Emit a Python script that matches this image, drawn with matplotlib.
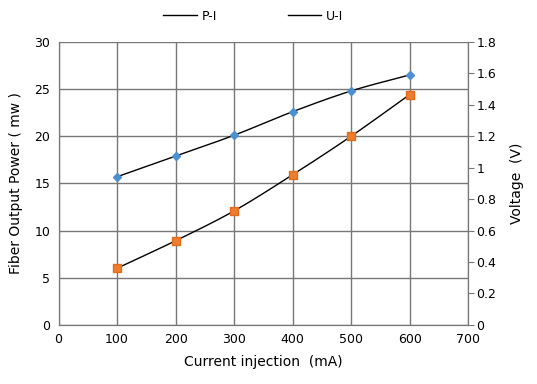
import numpy as np
import matplotlib.pyplot as plt

current = [100, 200, 300, 400, 500, 600]
power = [15.7, 17.9, 20.1, 22.6, 24.8, 26.5]
voltage = [0.36, 0.535, 0.725, 0.955, 1.2, 1.465]

x_ticks = [0, 100, 200, 300, 400, 500, 600, 700]
left_ticks = [0, 5, 10, 15, 20, 25, 30]
right_ticks = [0, 0.2, 0.4, 0.6, 0.8, 1, 1.2, 1.4, 1.6, 1.8]


def smooth(x, y, n=30):
    """ catmull-rom curve through the points, like excel's smoothed line """
    p = np.column_stack([x, y]).astype(float)
    p = np.vstack([2 * p[0] - p[1], p, 2 * p[-1] - p[-2]])
    out = []
    t = np.linspace(0, 1, n)[:, None]
    for i in range(1, len(p) - 2):
        p0, p1, p2, p3 = p[i - 1], p[i], p[i + 1], p[i + 2]
        seg = 0.5 * ((2 * p1) + (-p0 + p2) * t + (2 * p0 - 5 * p1 + 4 * p2 - p3) * t ** 2
                     + (-p0 + 3 * p1 - 3 * p2 + p3) * t ** 3)
        out.append(seg)
    out = np.vstack(out)
    return out[:, 0], out[:, 1]


grid_col = '#777777'
txt_col = '#000000'

fig = plt.figure(figsize=(5.37, 3.84), dpi=100)
ax = fig.add_axes([0.109, 0.154, 0.763, 0.737])
ax2 = ax.twinx()

ax.set_xlim(0, 700)
ax.set_ylim(0, 30)
ax2.set_ylim(0, 1.8)
ax.set_xticks(x_ticks)
ax.set_yticks(left_ticks)
ax2.set_yticks(right_ticks)
ax2.set_yticklabels([f'{v:g}' for v in right_ticks])

ax.grid(True, color=grid_col, linewidth=1)
ax.set_axisbelow(True)
ax.spines['top'].set_visible(False)
ax2.spines['top'].set_visible(False)
for s in ['left', 'bottom', 'right']:
    ax.spines[s].set_color(grid_col)
    ax2.spines[s].set_color(grid_col)
ax.tick_params(axis='both', length=0, labelsize=9, pad=6, colors=txt_col)
ax2.tick_params(axis='y', length=4, direction='out', color=grid_col, labelsize=9, pad=2)

sx, sy = smooth(current, power)
ax.plot(sx, sy, color='black', linewidth=1, label='P-I')
ax.plot(current, power, linestyle='none', marker='D', markersize=4.5,
        color='#4e8fd0', markeredgecolor='#4e8fd0')

vx, vy = smooth(current, voltage)
ax2.plot(vx, vy, color='black', linewidth=1, label='U-I')
ax2.plot(current, voltage, linestyle='none', marker='s', markersize=5.5,
         color='#ed7d31', markeredgecolor='#e06c1c')

ax.set_xlabel('Current injection  (mA)', fontsize=10, labelpad=6)
ax.set_ylabel('Fiber Output Power ( mw )', fontsize=10, labelpad=8)
ax2.set_ylabel('Voltage  (V)', fontsize=10, labelpad=10)

h1, l1 = ax.get_legend_handles_labels()
h2, l2 = ax2.get_legend_handles_labels()
fig.legend(h1[:1] + h2[:1], l1[:1] + l2[:1], loc='center', bbox_to_anchor=(0.472, 0.958),
           ncol=2, frameon=False, fontsize=9, handlelength=2.7, handletextpad=0.4,
           columnspacing=5.6)

fig.savefig('out.png', dpi=100)
